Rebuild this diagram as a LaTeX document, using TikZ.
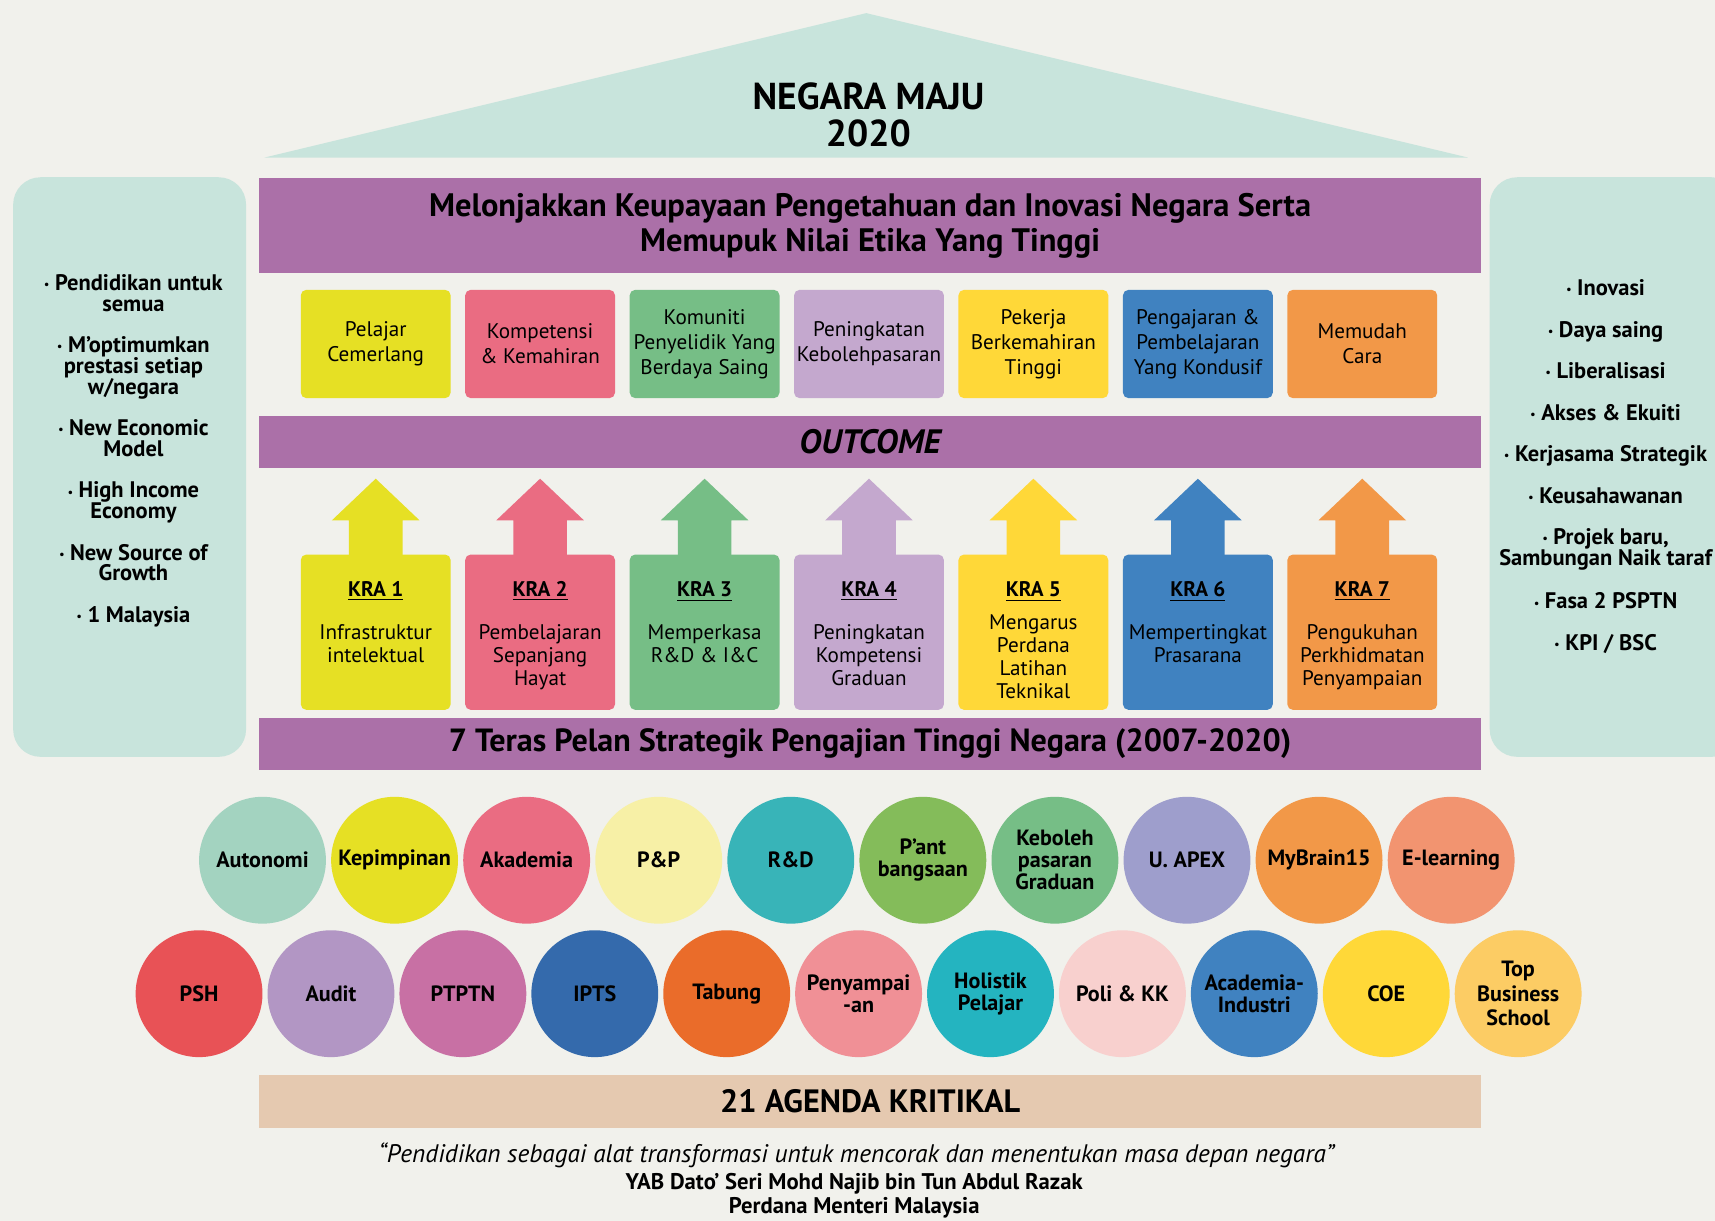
\documentclass[tikz,border=0pt]{standalone}
\usepackage{fontspec}
\setmainfont{PT Sans}
\usetikzlibrary{positioning}

\definecolor{paper}{RGB}{241,241,236}
\definecolor{mint}{RGB}{200,228,220}
\definecolor{plum}{RGB}{171,112,168}
\definecolor{sand}{RGB}{229,201,176}
% goal / KRA colours
\definecolor{lime}{RGB}{230,224,36}
\definecolor{rose}{RGB}{234,108,130}
\definecolor{leaf}{RGB}{118,190,134}
\definecolor{lilac}{RGB}{196,168,206}
\definecolor{sun}{RGB}{255,216,56}
\definecolor{sky}{RGB}{64,130,192}
\definecolor{tang}{RGB}{242,152,72}
% agenda colours
\definecolor{seafoam}{RGB}{163,211,192}
\definecolor{cream}{RGB}{247,240,166}
\definecolor{teal}{RGB}{56,180,184}
\definecolor{grass}{RGB}{132,188,90}
\definecolor{periwinkle}{RGB}{158,158,204}
\definecolor{salmon}{RGB}{242,148,112}
\definecolor{scarlet}{RGB}{232,82,86}
\definecolor{mauve}{RGB}{178,150,196}
\definecolor{orchid}{RGB}{200,112,164}
\definecolor{navy}{RGB}{52,106,172}
\definecolor{rust}{RGB}{234,108,42}
\definecolor{blush}{RGB}{240,144,150}
\definecolor{cyan}{RGB}{36,180,192}
\definecolor{shell}{RGB}{248,208,206}
\definecolor{honey}{RGB}{252,204,100}

\newcommand{\bul}{{\fontsize{6pt}{6pt}\selectfont\raisebox{0.3ex}{•}}\ }
% block arrow standing on a KRA box
\newcommand{\kraarrow}[2]{\fill[#2] (#1.north) ++(-24.5,1) -- ++(0,-32) -- ++(-15.5,0) -- ++(40,-38) -- ++(40,38) -- ++(-15.5,0) -- ++(0,32) -- cycle;}

\tikzset{
  panel/.style={fill=mint, rounded corners=0.5cm, minimum height=10.6cm, inner sep=0pt},
  paneltext/.style={align=center, inner sep=0pt, font=\fontsize{11.7pt}{10.8pt}\selectfont\bfseries},
  band/.style={fill=plum, minimum width=22.34cm, inner sep=0pt, align=center},
  goalbox/.style={rounded corners=0.1cm, minimum width=2.74cm, minimum height=1.98cm, inner sep=0pt, align=center, font=\fontsize{11pt}{13.1pt}\selectfont},
  krabox/.style={rounded corners=0.1cm, minimum width=2.74cm, minimum height=2.84cm, inner sep=0pt},
  kratext/.style={align=center, inner sep=0pt, font=\fontsize{11pt}{12pt}\selectfont},
  agenda/.style={circle, minimum size=2.32cm, inner sep=0pt, align=center, font=\fontsize{11.5pt}{11.4pt}\selectfont\bfseries},
}

\begin{document}
\begin{tikzpicture}[x=0.02cm, y=-0.02cm]
  \useasboundingbox (0,0) rectangle (1568,1116);
  \fill[paper] (0,0) rectangle (1568,1116);

  % roof
  \fill[mint] (242,144) -- (792,12) -- (1342,144) -- cycle;
  \node[align=center, inner sep=0pt, font=\fontsize{19.5pt}{19pt}\selectfont\bfseries] (title) at (794,105) {NEGARA MAJU\\2020};

  % side panels
  \node[panel, minimum width=4.26cm] (leftpanel) at (118.5,427) {};
  \node[panel, minimum width=4.56cm] (rightpanel) at (1476,427) {};
  \node[paneltext] (leftlist) at (122,412) {\bul Pendidikan untuk\\semua\\[10.8pt]
    \bul M’optimumkan\\prestasi setiap\\w/negara\\[10.8pt]
    \bul New Economic\\Model\\[10.8pt]
    \bul High Income\\Economy\\[10.8pt]
    \bul New Source of\\Growth\\[10.8pt]
    \bul 1 Malaysia};
  \node[paneltext] (rightlist) at (1468,426.5) {\bul Inovasi\\[10.8pt]
    \bul Daya saing\\[10.8pt]
    \bul Liberalisasi\\[10.8pt]
    \bul Akses \& Ekuiti\\[10.8pt]
    \bul Kerjasama Strategik\\[10.8pt]
    \bul Keusahawanan\\[10.8pt]
    \bul Projek baru,\\Sambungan Naik taraf\\[10.8pt]
    \bul Fasa 2 PSPTN\\[10.8pt]
    \bul KPI / BSC};

  % mission band
  \node[band, minimum height=1.74cm, font=\fontsize{16.9pt}{18.4pt}\selectfont\bfseries] (mission) at (795.5,206.5)
    {Melonjakkan Keupayaan Pengetahuan dan Inovasi Negara Serta\\Memupuk Nilai Etika Yang Tinggi};

  % goal boxes
  \node[goalbox, fill=lime] (goal1) at (343.5,314.5) {Pelajar\\Cemerlang};
  \node[goalbox, fill=rose] (goal2) at (493.8,314.5) {Kompetensi\\\& Kemahiran};
  \node[goalbox, fill=leaf] (goal3) at (644.2,314.5) {Komuniti\\Penyelidik Yang\\Berdaya Saing};
  \node[goalbox, fill=lilac] (goal4) at (794.5,314.5) {Peningkatan\\Kebolehpasaran};
  \node[goalbox, fill=sun] (goal5) at (944.8,314.5) {Pekerja\\Berkemahiran\\Tinggi};
  \node[goalbox, fill=sky] (goal6) at (1095.2,314.5) {Pengajaran \&\\Pembelajaran\\Yang Kondusif};
  \node[goalbox, fill=tang] (goal7) at (1245.5,314.5) {Memudah\\Cara};

  % outcome band
  \node[band, minimum height=0.96cm, font=\fontsize{17.6pt}{17.6pt}\selectfont\bfseries\itshape] (outcome) at (795.5,404) {OUTCOME};

  % KRA boxes
  \node[krabox, fill=lime] (kra1) at (343.5,578) {};
  \node[krabox, fill=rose] (kra2) at (493.8,578) {};
  \node[krabox, fill=leaf] (kra3) at (644.2,578) {};
  \node[krabox, fill=lilac] (kra4) at (794.5,578) {};
  \node[krabox, fill=sun] (kra5) at (944.8,578) {};
  \node[krabox, fill=sky] (kra6) at (1095.2,578) {};
  \node[krabox, fill=tang] (kra7) at (1245.5,578) {};
  \kraarrow{kra1}{lime}
  \kraarrow{kra2}{rose}
  \kraarrow{kra3}{leaf}
  \kraarrow{kra4}{lilac}
  \kraarrow{kra5}{sun}
  \kraarrow{kra6}{sky}
  \kraarrow{kra7}{tang}
  \node[kratext, below=0.5cm of kra1.north] (kra1t) {\textbf{\underline{KRA 1}}\\[10.2pt]Infrastruktur\\intelektual};
  \node[kratext, below=0.5cm of kra2.north] (kra2t) {\textbf{\underline{KRA 2}}\\[10.2pt]Pembelajaran\\Sepanjang\\Hayat};
  \node[kratext, below=0.5cm of kra3.north] (kra3t) {\textbf{\underline{KRA 3}}\\[10.2pt]Memperkasa\\R\&D \& I\&C};
  \node[kratext, below=0.5cm of kra4.north] (kra4t) {\textbf{\underline{KRA 4}}\\[10.2pt]Peningkatan\\Kompetensi\\Graduan};
  \node[kratext, below=0.5cm of kra5.north] (kra5t) {\textbf{\underline{KRA 5}}\\[5.1pt]Mengarus\\Perdana\\Latihan\\Teknikal};
  \node[kratext, below=0.5cm of kra6.north] (kra6t) {\textbf{\underline{KRA 6}}\\[10.2pt]Mempertingkat\\Prasarana};
  \node[kratext, below=0.5cm of kra7.north] (kra7t) {\textbf{\underline{KRA 7}}\\[10.2pt]Pengukuhan\\Perkhidmatan\\Penyampaian};

  % teras band
  \node[band, minimum height=0.96cm, font=\fontsize{16.7pt}{16.7pt}\selectfont\bfseries] (teras) at (795.5,680)
    {7 Teras Pelan Strategik Pengajian Tinggi Negara (2007-2020)};

  % agenda circles, top row
  \node[agenda, fill=seafoam] (autonomi) at (240,786.5) {Autonomi};
  \node[agenda, fill=lime] (kepimpinan) at (360.75,786.5) {Kepimpinan};
  \node[agenda, fill=rose] (akademia) at (481.5,786.5) {Akademia};
  \node[agenda, fill=cream] (pnp) at (602.25,786.5) {P\&P};
  \node[agenda, fill=teal] (rnd) at (723,786.5) {R\&D};
  \node[agenda, fill=grass] (pant) at (843.75,786.5) {P’ant\\bangsaan};
  \node[agenda, fill=leaf] (keboleh) at (964.5,786.5) {Keboleh\\pasaran\\Graduan};
  \node[agenda, fill=periwinkle] (uapex) at (1085.25,786.5) {U. APEX};
  \node[agenda, fill=tang] (mybrain) at (1206,786.5) {MyBrain15};
  \node[agenda, fill=salmon] (elearning) at (1326.75,786.5) {E-learning};
  % agenda circles, bottom row
  \node[agenda, fill=scarlet] (psh) at (182,908.5) {PSH};
  \node[agenda, fill=mauve] (audit) at (302.6,908.5) {Audit};
  \node[agenda, fill=orchid] (ptptn) at (423.2,908.5) {PTPTN};
  \node[agenda, fill=navy] (ipts) at (543.8,908.5) {IPTS};
  \node[agenda, fill=rust] (tabung) at (664.4,908.5) {Tabung};
  \node[agenda, fill=blush] (penyampaian) at (785,908.5) {Penyampai\\-an};
  \node[agenda, fill=cyan] (holistik) at (905.6,908.5) {Holistik\\Pelajar};
  \node[agenda, fill=shell] (poli) at (1026.2,908.5) {Poli \& KK};
  \node[agenda, fill=sky] (industri) at (1146.8,908.5) {Academia-\\Industri};
  \node[agenda, fill=sun] (coe) at (1267.4,908.5) {COE};
  \node[agenda, fill=honey, font=\fontsize{11.5pt}{12.8pt}\selectfont\bfseries] (tbs) at (1388,908.5) {Top\\Business\\School};

  % agenda band
  \node[band, fill=sand, minimum height=0.96cm, font=\fontsize{16.8pt}{16.8pt}\selectfont\bfseries] (kritikal) at (795.5,1007) {21 AGENDA KRITIKAL};

  % quote
  \node[inner sep=0pt, font=\fontsize{13.2pt}{13.2pt}\selectfont\itshape] (quote) at (783,1056)
    {“Pendidikan sebagai alat transformasi untuk mencorak dan menentukan masa depan negara”};
  \node[align=center, inner sep=0pt, font=\fontsize{11.8pt}{12.5pt}\selectfont\bfseries] (najib) at (781,1093)
    {YAB Dato’ Seri Mohd Najib bin Tun Abdul Razak\\Perdana Menteri Malaysia};
\end{tikzpicture}
\end{document}
